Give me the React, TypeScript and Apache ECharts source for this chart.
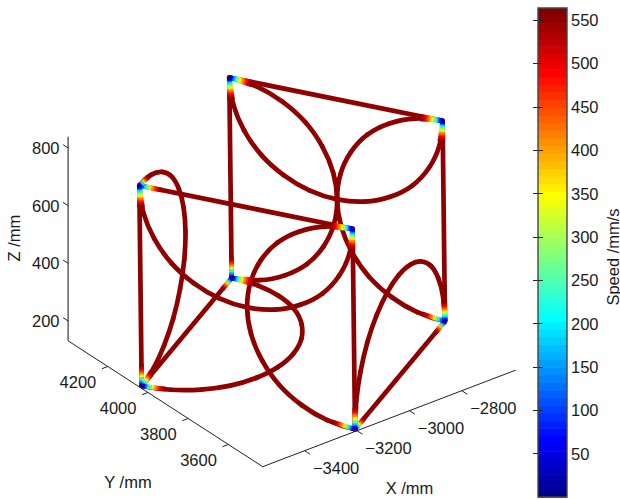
import React, { useEffect, useRef } from "react";
import * as echarts from "echarts";

// Tool path in the cube's own frame, mm: [along front edge, into depth, up]
const backTopArc = [[0,700,700],[12,700,609],[47,700,525],[102,700,452],[175,700,397],[259,700,362],[350,700,350],[441,700,362],[525,700,397],[598,700,452],[653,700,525],[688,700,609],[700,700,700]];
const backLeftArc = [[0,700,700],[91,700,688],[175,700,653],[248,700,598],[303,700,525],[338,700,441],[350,700,350],[338,700,259],[303,700,175],[248,700,102],[175,700,47],[91,700,12],[0,700,0]];
const backRightArc = [[700,700,700],[609,700,688],[525,700,653],[452,700,598],[397,700,525],[362,700,441],[350,700,350],[362,700,259],[397,700,175],[452,700,102],[525,700,47],[609,700,12],[700,700,0]];
const frontTopArc = [[0,0,700],[12,0,609],[47,0,525],[102,0,452],[175,0,397],[259,0,362],[350,0,350],[441,0,362],[525,0,397],[598,0,452],[653,0,525],[688,0,609],[700,0,700]];
const frontRightArc = [[700,0,700],[609,0,688],[525,0,653],[452,0,598],[397,0,525],[362,0,441],[350,0,350],[362,0,259],[397,0,175],[452,0,102],[525,0,47],[609,0,12],[700,0,0]];
const leftArc = [[0,0,700],[0,91,688],[0,175,653],[0,248,598],[0,303,525],[0,338,441],[0,350,350],[0,338,259],[0,303,175],[0,248,102],[0,175,47],[0,91,12],[0,0,0]];
const bottomArc = [[0,0,0],[91,12,0],[175,47,0],[248,102,0],[303,175,0],[338,259,0],[350,350,0],[338,441,0],[303,525,0],[248,598,0],[175,653,0],[91,688,0],[0,700,0]];
const rightArc = [[700,0,0],[700,12,91],[700,47,175],[700,102,248],[700,175,303],[700,259,338],[700,350,350],[700,441,338],[700,525,303],[700,598,248],[700,653,175],[700,688,91],[700,700,0]];
const edgeAB = [[0,700,700],[700,700,700]];
const edgeCD = [[0,0,700],[700,0,700]];
const edgeAE = [[0,700,700],[0,700,0]];
const edgeCG = [[0,0,700],[0,0,0]];
const edgeDH = [[700,0,700],[700,0,0]];
const edgeBF = [[700,700,700],[700,700,0]];
const edgeGE = [[0,0,0],[0,700,0]];
const edgeHF = [[700,0,0],[700,700,0]];
const paths = [edgeAB, edgeCD, edgeAE, edgeCG, edgeDH, edgeBF, edgeGE, edgeHF, backTopArc, backLeftArc, backRightArc, frontTopArc, frontRightArc, leftArc, bottomArc, rightArc];

// Speed against distance from each corner
const rampDistance = [0, 5, 10, 15, 20, 25, 30, 35, 40, 45, 50, 55, 60, 65, 70, 75];
const rampSpeed = [10, 70, 130, 190, 240, 290, 330, 370, 410, 440, 470, 500, 520, 540, 550, 555];
const cruiseSpeed = 555;

const speedMin = 0;
const speedMax = 564;
const speedTicks = [50, 100, 150, 200, 250, 300, 350, 400, 450, 500, 550];
const xTicks = [-3400, -3200, -3000, -2800];
const yTicks = [3600, 3800, 4000, 4200];
const zTicks = [200, 400, 600, 800];
const xRange = [-3560, -2594];
const yRange = [3429, 4397];
const zRange = [131, 838.6];

const FONT = '"Liberation Sans", Arial, sans-serif';
const FONT_SIZE = 16.5;
const TEXT = "#1a1a1a";
const PATH_WIDTH = 4.7;

// Cube frame to robot frame, mm
const origin = [-3559.5, 4031.7, 139];
const unitP = [0.5019, -0.8619, 0];
const unitQ = [0.8811, 0.509, 0];
const unitR = [-0.0064, 0.0086, 0.9919];
const toWorld = ([p, q, r]: number[]) => [0, 1, 2].map((i) => origin[i] + p * unitP[i] + q * unitQ[i] + r * unitR[i]);

// Fixed 3-D view of the plot box, drawn on hidden value axes
const project = ([x, y, z]: number[]) => [
  262.7 + 0.262 * (x - xRange[0]) - 0.201 * (y - yRange[0]),
  466.7 - 0.1 * (x - xRange[0]) - 0.13 * (y - yRange[0]) - 0.2883 * (z - zRange[0]),
];

const jet = (speed: number) => {
  const i = Math.min(63, Math.max(0, Math.floor(((speed - speedMin) / (speedMax - speedMin)) * 64)));
  const t = (i + 1) / 64;
  const ch = (c: number) => Math.round(255 * Math.min(1, Math.max(0, 1.5 - Math.abs(4 * t - c))));
  return `rgb(${ch(3)},${ch(2)},${ch(1)})`;
};

type Seg = { a: number[]; b: number[]; color: string; width: number };

const axisSegs: Seg[] = [];
const addAxis = (a: number[], b: number[], color = "#222", width = 1) =>
  axisSegs.push({ a: project(a), b: project(b), color, width });
addAxis([xRange[0], yRange[1], zRange[0]], [xRange[0], yRange[1], zRange[1]], "#555", 1.4);
addAxis([xRange[0], yRange[1], zRange[0]], [xRange[0], yRange[0], zRange[0]]);
addAxis([xRange[0], yRange[0], zRange[0]], [xRange[1], yRange[0], zRange[0]]);
xTicks.forEach((x) => addAxis([x, yRange[0], zRange[0]], [x, yRange[0] - 27, zRange[0]]));
yTicks.forEach((y) => addAxis([xRange[0], y, zRange[0]], [xRange[0] - 22, y, zRange[0]]));
zTicks.forEach((z) => addAxis([xRange[0], yRange[1], z], [xRange[0], yRange[1] + 25, z]));

const rampSegs: Seg[] = [];
const addRamp = (from: number[], to: number[]) => {
  const len = Math.hypot(to[0] - from[0], to[1] - from[1], to[2] - from[2]);
  const at = (d: number) => project(toWorld(from.map((v, i) => v + ((to[i] - v) * d) / len)));
  for (let i = rampDistance.length - 2; i >= 0; i--) {
    rampSegs.push({ a: at(rampDistance[i]), b: at(rampDistance[i + 1] + 0.5), color: jet(rampSpeed[i]), width: PATH_WIDTH });
  }
};
paths.forEach((p) => {
  addRamp(p[0], p[1]);
  addRamp(p[p.length - 1], p[p.length - 2]);
});

// Smooth pieces through the projected path points
type Piece = { a: number[]; c1: number[]; c2: number[]; b: number[] };
const pieces: Piece[] = [];
paths.forEach((path) => {
  const pts = path.map((v) => project(toWorld(v)));
  const n = pts.length;
  const get = (i: number) => {
    if (i >= 0 && i < n) return pts[i];
    if (n === 2) return i < 0 ? pts[0] : pts[1];
    if (i < 0) return pts[0].map((v, k) => 3 * v - 3 * pts[1][k] + pts[2][k]);
    return pts[n - 1].map((v, k) => 3 * v - 3 * pts[n - 2][k] + pts[n - 3][k]);
  };
  for (let i = 0; i < n - 1; i++) {
    const p0 = get(i - 1);
    const p1 = get(i);
    const p2 = get(i + 1);
    const p3 = get(i + 2);
    pieces.push({
      a: p1,
      b: p2,
      c1: p1.map((v, k) => v + (p2[k] - p0[k]) / 6),
      c2: p2.map((v, k) => v - (p3[k] - p1[k]) / 6),
    });
  }
});

type Label = { at: number[]; text: string; align?: string };
const labels: Label[] = [
  ...xTicks.map((x) => {
    const s = project([x, yRange[0], zRange[0]]);
    return { at: [s[0] + 31.5, s[1] + 17], text: `\u2212${Math.abs(x)}` };
  }),
  ...yTicks.map((y) => {
    const s = project([xRange[0], y, zRange[0]]);
    return { at: [s[0] - 29.8, s[1] + 15.5], text: `${y}` };
  }),
  ...zTicks.map((z) => {
    const s = project([xRange[0], yRange[1], z]);
    return { at: [59.5, s[1]], text: `${z}`, align: "right" };
  }),
];

const segSeries = (segs: Seg[], z: number) => ({
  type: "custom",
  coordinateSystem: "cartesian2d",
  xAxisIndex: 0,
  yAxisIndex: 0,
  clip: false,
  silent: true,
  z,
  encode: { x: [0, 2], y: [1, 3] },
  data: segs.map((s) => [s.a[0], s.a[1], s.b[0], s.b[1]]),
  renderItem: (params: any, api: any) => {
    const s = segs[params.dataIndex];
    const p = api.coord(s.a);
    const q = api.coord(s.b);
    return {
      type: "line",
      shape: { x1: p[0], y1: p[1], x2: q[0], y2: q[1] },
      style: { stroke: s.color, lineWidth: s.width, lineCap: "butt" },
    };
  },
});

const levels = Array.from({ length: 64 }, (_, i) => i);
const levelSize = (speedMax - speedMin) / 64;

export default function App() {
  const ref = useRef<HTMLDivElement>(null);
  useEffect(() => {
    const chart = echarts.init(ref.current!, null, { renderer: "svg" });
    const hiddenValue = { type: "value", show: false };
    const font = `${FONT_SIZE}px ${FONT}`;
    chart.setOption({
      animation: false,
      backgroundColor: "#fff",
      grid: [
        { left: 0, top: 0, width: 620, height: 500 },
        { left: 538, top: 8, width: 29, height: 489 },
      ],
      xAxis: [
        { ...hiddenValue, min: 0, max: 620, gridIndex: 0 },
        { ...hiddenValue, min: 0, max: 1, gridIndex: 1 },
      ],
      yAxis: [
        { ...hiddenValue, min: 0, max: 500, inverse: true, gridIndex: 0 },
        {
          type: "value",
          gridIndex: 1,
          position: "right",
          min: speedMin,
          max: speedMax,
          z: 6,
          splitLine: { show: false },
          axisLine: { show: false },
          axisTick: { show: true, inside: true, length: 5, customValues: speedTicks, lineStyle: { color: "#222", width: 1 } },
          axisLabel: { show: true, margin: 4, customValues: speedTicks, color: TEXT, fontFamily: FONT, fontSize: FONT_SIZE },
        },
        {
          type: "value",
          gridIndex: 1,
          position: "left",
          min: speedMin,
          max: speedMax,
          z: 6,
          splitLine: { show: false },
          axisLine: { show: false },
          axisLabel: { show: false },
          axisTick: { show: true, inside: true, length: 5, customValues: speedTicks, lineStyle: { color: "#222", width: 1 } },
        },
      ],
      graphic: [
        { type: "rect", z: 50, shape: { x: 538, y: 8, width: 29, height: 489 }, style: { fill: "none", stroke: "#444", lineWidth: 1.4 } },
        { type: "text", x: 409.5, y: 488, style: { text: "X /mm", font, fill: TEXT, align: "center", verticalAlign: "middle" } },
        { type: "text", x: 128, y: 481.5, style: { text: "Y /mm", font, fill: TEXT, align: "center", verticalAlign: "middle" } },
        { type: "text", x: 13.5, y: 238, rotation: Math.PI / 2, style: { text: "Z /mm", font, fill: TEXT, align: "center", verticalAlign: "middle" } },
        { type: "text", x: 612.5, y: 257, rotation: Math.PI / 2, style: { text: "Speed /mm/s", font, fill: TEXT, align: "center", verticalAlign: "middle" } },
      ],
      series: [
        segSeries(axisSegs, 1),
        {
          type: "custom",
          coordinateSystem: "cartesian2d",
          xAxisIndex: 0,
          yAxisIndex: 0,
          clip: false,
          silent: true,
          z: 1,
          encode: { x: 0, y: 1 },
          data: labels.map((l) => [l.at[0], l.at[1]]),
          renderItem: (params: any, api: any) => {
            const l = labels[params.dataIndex];
            const p = api.coord(l.at);
            return {
              type: "text",
              x: p[0],
              y: p[1],
              style: { text: l.text, font, fill: TEXT, align: l.align ?? "center", verticalAlign: "middle" },
            };
          },
        },
        {
          type: "custom",
          coordinateSystem: "cartesian2d",
          xAxisIndex: 0,
          yAxisIndex: 0,
          clip: false,
          silent: true,
          z: 3,
          encode: { x: [0, 2], y: [1, 3] },
          data: pieces.map((s) => [s.a[0], s.a[1], s.b[0], s.b[1]]),
          renderItem: (params: any, api: any) => {
            const s = pieces[params.dataIndex];
            const a = api.coord(s.a);
            const b = api.coord(s.b);
            const c1 = api.coord(s.c1);
            const c2 = api.coord(s.c2);
            return {
              type: "bezierCurve",
              shape: { x1: a[0], y1: a[1], x2: b[0], y2: b[1], cpx1: c1[0], cpy1: c1[1], cpx2: c2[0], cpy2: c2[1] },
              style: { stroke: jet(cruiseSpeed), fill: "none", lineWidth: PATH_WIDTH, lineCap: "round" },
            };
          },
        },
        segSeries(rampSegs, 4),
        {
          type: "custom",
          coordinateSystem: "cartesian2d",
          xAxisIndex: 1,
          yAxisIndex: 1,
          silent: true,
          z: 2,
          encode: { x: 0, y: 1 },
          data: levels.map((i) => [0, speedMin + (i + 0.5) * levelSize]),
          renderItem: (params: any, api: any) => {
            const i = params.dataIndex;
            const lo = api.coord([0, speedMin + i * levelSize]);
            const hi = api.coord([1, speedMin + (i + 1) * levelSize]);
            return {
              type: "rect",
              shape: { x: lo[0], y: hi[1], width: hi[0] - lo[0], height: lo[1] - hi[1] + 0.6 },
              style: { fill: jet(speedMin + (i + 0.5) * levelSize) },
            };
          },
        },
      ],
    });
    return () => chart.dispose();
  }, []);
  return <div ref={ref} style={{ position: "fixed", left: 0, top: 0, width: 620, height: 500, background: "#fff" }} />;
}
